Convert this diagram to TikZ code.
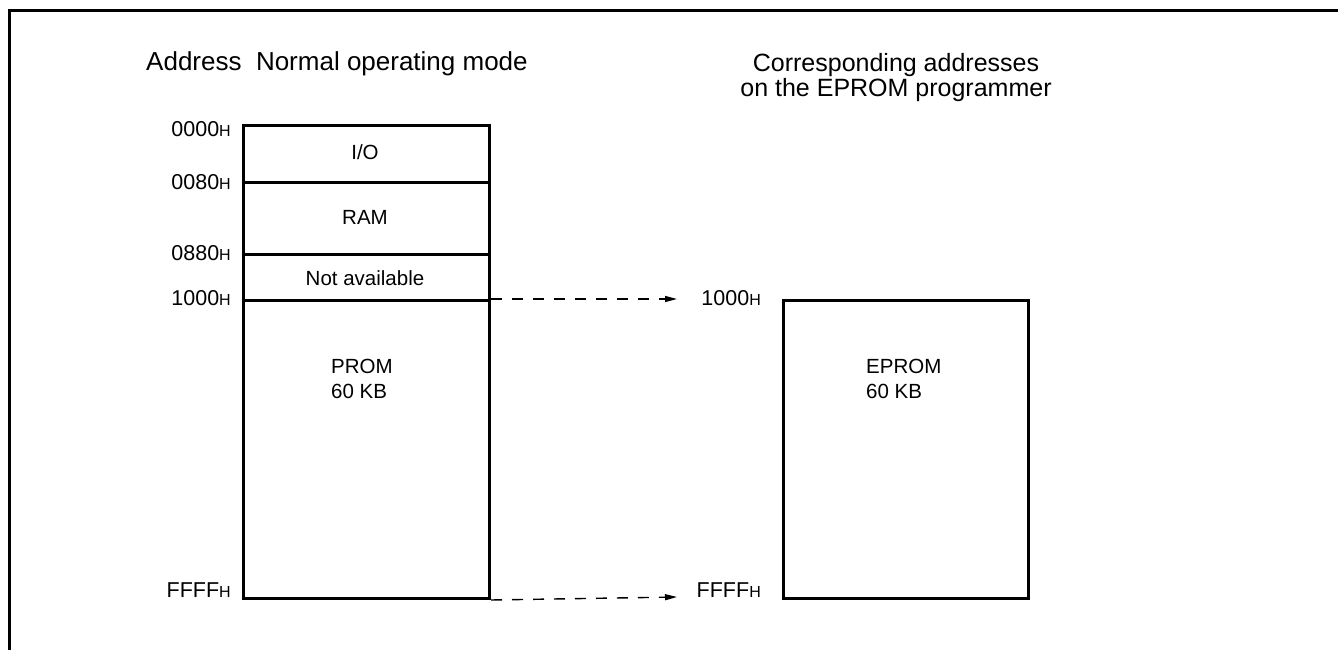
\documentclass[tikz,border=0pt]{standalone}
\usepackage{fontspec}
\setmainfont{Liberation Sans}
\usetikzlibrary{arrows.meta}
\newcommand{\hx}{{\fontsize{16}{18}\selectfont H}}
\tikzset{
  memblock/.style={draw, line width=3pt, inner sep=0pt, anchor=north west},
  boxtext/.style={font=\fontsize{20.5}{25}\selectfont, inner sep=0pt},
  addr/.style={font=\fontsize{21.5}{25}\selectfont, inner sep=0pt},
  headtext/.style={font=\fontsize{26}{26}\selectfont, inner sep=0pt},
  headtextb/.style={font=\fontsize{25}{25.5}\selectfont, inner sep=0pt},
  dasharrow/.style={line width=1.4pt, dash pattern=on 11pt off 10pt, -{Triangle[length=12pt,width=6pt]}},
}
\begin{document}
\begin{tikzpicture}[x=1pt,y=-1pt]
\useasboundingbox (0,0) rectangle (1338,650);
% outer frame
\draw[line width=2.6pt] (9.5,651) -- (9.5,10.5) -- (1340,10.5);
% headings
\node[headtext, anchor=base west] (h1) at (146,71) {Address\ \ Normal operating mode};
\node[headtextb, anchor=base, align=center] (h2) at (896,97) {Corresponding addresses\\on the EPROM programmer};
% left memory map
\node[memblock, minimum width=246pt, minimum height=57pt] (io) at (242,124) {};
\node[memblock, minimum width=246pt, minimum height=72pt] (ram) at (242,181) {};
\node[memblock, minimum width=246pt, minimum height=46pt] (na) at (242,253) {};
\node[memblock, minimum width=246pt, minimum height=298pt] (prom) at (242,299) {};
% right memory
\node[memblock, minimum width=245pt, minimum height=298pt] (eprom) at (782,299) {};
% box texts
\node[boxtext] (tio) at (365,152) {I/O};
\node[boxtext] (tram) at (365,217) {RAM};
\node[boxtext] (tna) at (365,278) {Not available};
\node[boxtext, align=left, anchor=north west] (tprom) at (331,359) {PROM\\60 KB};
\node[boxtext, align=left, anchor=north west] (teprom) at (866,359) {EPROM\\60 KB};
% address labels
\node[addr, anchor=east] (a0) at (231,129) {0000\hx};
\node[addr, anchor=east] (a1) at (231,182) {0080\hx};
\node[addr, anchor=east] (a2) at (231,253) {0880\hx};
\node[addr, anchor=east] (a3) at (231,298) {1000\hx};
\node[addr, anchor=base east] (a4) at (231,597) {FFFF\hx};
\node[addr, anchor=east] (b3) at (761,298) {1000\hx};
\node[addr, anchor=base east] (b4) at (761,597) {FFFF\hx};
% arrows
\coordinate (e3) at (677,299);
\coordinate (e4) at (677,597);
\draw[dasharrow] (prom.north east) -- (e3);
\draw[dasharrow] (prom.south east) -- (e4);
\end{tikzpicture}
\end{document}
